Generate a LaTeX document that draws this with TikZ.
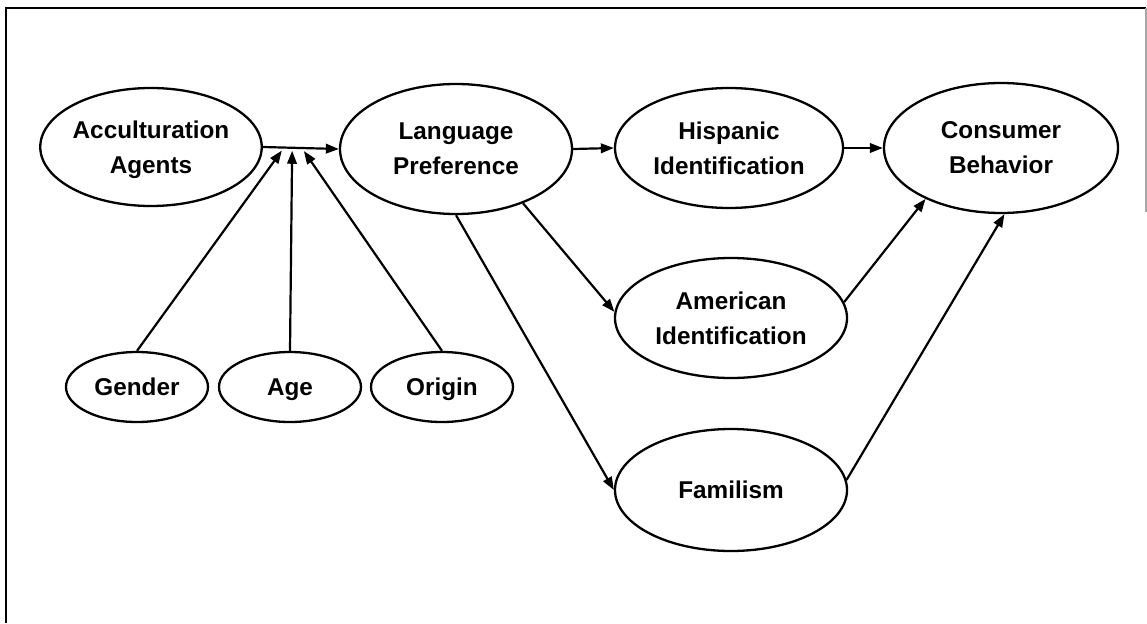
\documentclass[tikz,border=0pt]{standalone}
\usepackage{fontspec}
\setmainfont{Liberation Sans}
\usetikzlibrary{arrows.meta,calc,shapes.geometric}
\begin{document}
\begin{tikzpicture}[x=1pt,y=-1pt,
  bubble/.style={draw,ellipse,line width=2.3pt,inner sep=0pt,align=center,
    font={\fontsize{24.3}{35}\selectfont\bfseries},text depth=0pt},
  conn/.style={line width=2.2pt,-{Triangle[length=13pt,width=9.5pt]}},
  frame/.style={line width=2pt}]
\useasboundingbox (0,0) rectangle (1147,623);
% frame
\draw[frame] (6,623) -- (6,8) -- (1146,8);
\draw[frame,black!35] (1146,8) -- (1146,212);
% nodes
\node[bubble,minimum width=216pt,minimum height=118pt] (AA) at (151,147) {Acculturation\\Agents};
\node[bubble,minimum width=232pt,minimum height=130pt] (LP) at (456,149) {Language\\Preference};
\node[bubble,minimum width=228pt,minimum height=120pt] (HI) at (729,148) {Hispanic\\Identification};
\node[bubble,minimum width=234pt,minimum height=130pt] (CB) at (1001,148) {Consumer\\Behavior};
\node[bubble,minimum width=232pt,minimum height=120pt] (AI) at (731,318) {American\\Identification};
\node[bubble,minimum width=232pt,minimum height=122pt] (FA) at (731,490) {Familism};
\node[bubble,minimum width=142pt,minimum height=70pt] (GE) at (137,387) {Gender};
\node[bubble,minimum width=142pt,minimum height=70pt] (AG) at (290,387) {Age};
\node[bubble,minimum width=142pt,minimum height=70pt] (OR) at (442,387) {Origin};
% junction points on the AA -> LP arrow
\coordinate (jg) at ($(AA.east)!0.25!(LP.west)+(0,3)$);
\coordinate (ja) at ($(AA.east)!0.385!(LP.west)+(0,3)$);
\coordinate (jo) at ($(AA.east)!0.54!(LP.west)+(0,3)$);
% connectors
\draw[conn] (AA.east) -- (LP.west);
\draw[conn] (GE.north) -- (jg);
\draw[conn] (AG.north) -- (ja);
\draw[conn] (OR.north) -- (jo);
\draw[conn] (LP.east) -- (HI.west);
\draw[conn] (HI.east) -- (CB.west);
\draw[conn] (LP.-39) -- (AI.177);
\draw[conn] (LP.south) -- (FA.west);
\draw[conn] (AI.8) -- (CB.214);
\draw[conn] (FA.5) -- (CB.-87);
\end{tikzpicture}
\end{document}
